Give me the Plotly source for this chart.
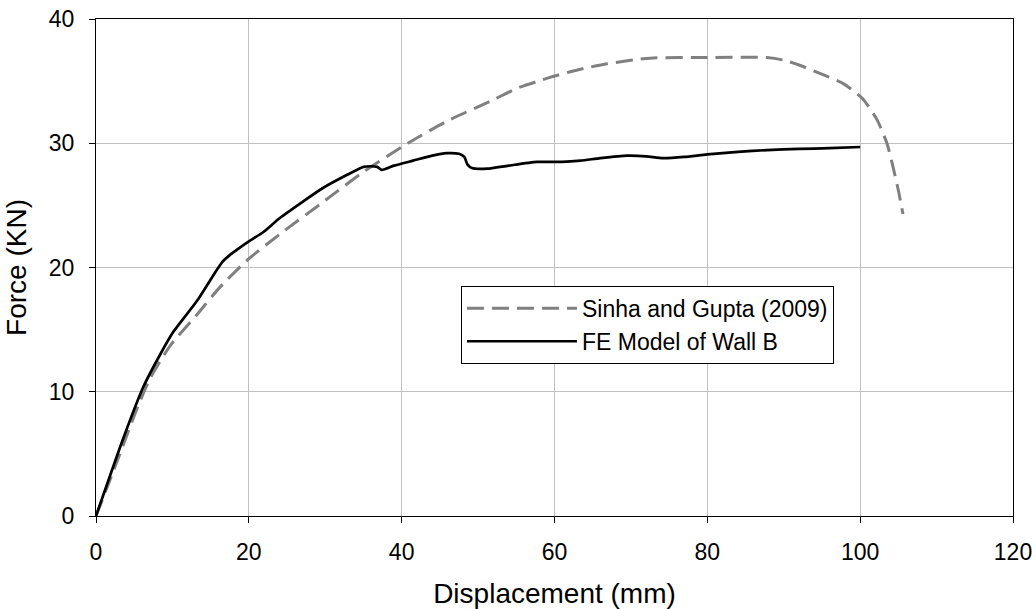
import plotly.graph_objects as go

# Sinha and Gupta (2009) experimental curve
sinha_x = [0, 2.7, 5.4, 7.1, 9.7, 13.2, 16.2, 19.8, 24.1, 30, 35, 40.8, 46, 52, 55, 59.4,
           63, 66.9, 72.5, 80, 87.8, 89.9, 92, 94.4, 97.8, 100.3, 102.2, 103.5, 104.3, 105, 105.6]
sinha_y = [0, 4.3, 8.7, 11.1, 13.7, 16.2, 18.4, 20.6, 22.7, 25.4, 27.7, 30, 31.8, 33.5, 34.4, 35.3,
           35.9, 36.4, 36.85, 36.9, 36.9, 36.7, 36.3, 35.7, 34.8, 33.6, 31.9, 30.0, 28.1, 26.2, 24.3]

# FE model of Wall B
fe_x = [0, 3.6, 6.2, 8.4, 10.1, 13.2, 15.8, 16.6, 17.5, 18.6, 20, 22, 24.1, 29.7, 33, 35, 35.9, 36.8,
        37.4, 39, 41.5, 44, 45.9, 47.5, 48.2, 48.6, 49.2, 51.2, 54, 57.7, 61, 63.4, 66, 69.5,
        72, 74.2, 77, 80, 84, 87.8, 92, 96, 100]
fe_y = [0, 6.3, 10.4, 13.0, 14.8, 17.3, 19.8, 20.5, 21.0, 21.5, 22.1, 22.9, 24.0, 26.4, 27.5, 28.1, 28.15, 28.1,
        27.85, 28.2, 28.6, 29.0, 29.2, 29.15, 28.9, 28.3, 28.0, 27.95, 28.2, 28.5, 28.5, 28.6, 28.8, 29.0,
        28.95, 28.8, 28.9, 29.1, 29.3, 29.45, 29.55, 29.6, 29.7]

x_ticks = [0, 20, 40, 60, 80, 100, 120]
y_ticks = [0, 10, 20, 30, 40]

fig = go.Figure()
fig.add_trace(go.Scatter(x=sinha_x, y=sinha_y, mode="lines", name="Sinha and Gupta (2009)",
                         line=dict(color="#808080", width=3, dash="17px,8px", shape="spline", smoothing=0.6)))
fig.add_trace(go.Scatter(x=fe_x, y=fe_y, mode="lines", name="FE Model of Wall B",
                         line=dict(color="#000000", width=2.7, shape="spline", smoothing=0.6)))

font = "Liberation Sans, Arial, sans-serif"
fig.update_layout(
    width=1036, height=609,
    margin=dict(l=96, r=23, t=19, b=93),
    paper_bgcolor="white", plot_bgcolor="white",
    font=dict(family=font, size=23, color="black"),
    showlegend=True,
    legend=dict(x=0.398, y=0.463, xanchor="left", yanchor="top",
                bordercolor="black", borderwidth=1, bgcolor="white",
                font=dict(size=23, family=font), tracegroupgap=0, itemwidth=110),
)
fig.update_xaxes(range=[0, 120], tickvals=x_ticks, showgrid=True, gridcolor="#c0c0c0", gridwidth=1,
                 showline=True, linecolor="black", linewidth=1, mirror=True,
                 ticks="outside", ticklen=6, tickcolor="black", zeroline=False,
                 ticklabelstandoff=9, ticklabeloverflow="allow",
                 title=dict(text="Displacement (mm)", standoff=21), automargin=False)
fig.update_yaxes(range=[0, 40], tickvals=y_ticks, showgrid=True, gridcolor="#c0c0c0", gridwidth=1,
                 showline=True, linecolor="black", linewidth=1, mirror=True,
                 ticks="outside", ticklen=6, tickcolor="black", zeroline=False,
                 ticklabelstandoff=10, ticklabeloverflow="allow",
                 title=dict(text="Force (KN)", standoff=14), automargin=False)

fig.write_html("out.html", config={"displayModeBar": False},
               post_script="document.body.style.margin='0';document.body.style.overflow='hidden';")
